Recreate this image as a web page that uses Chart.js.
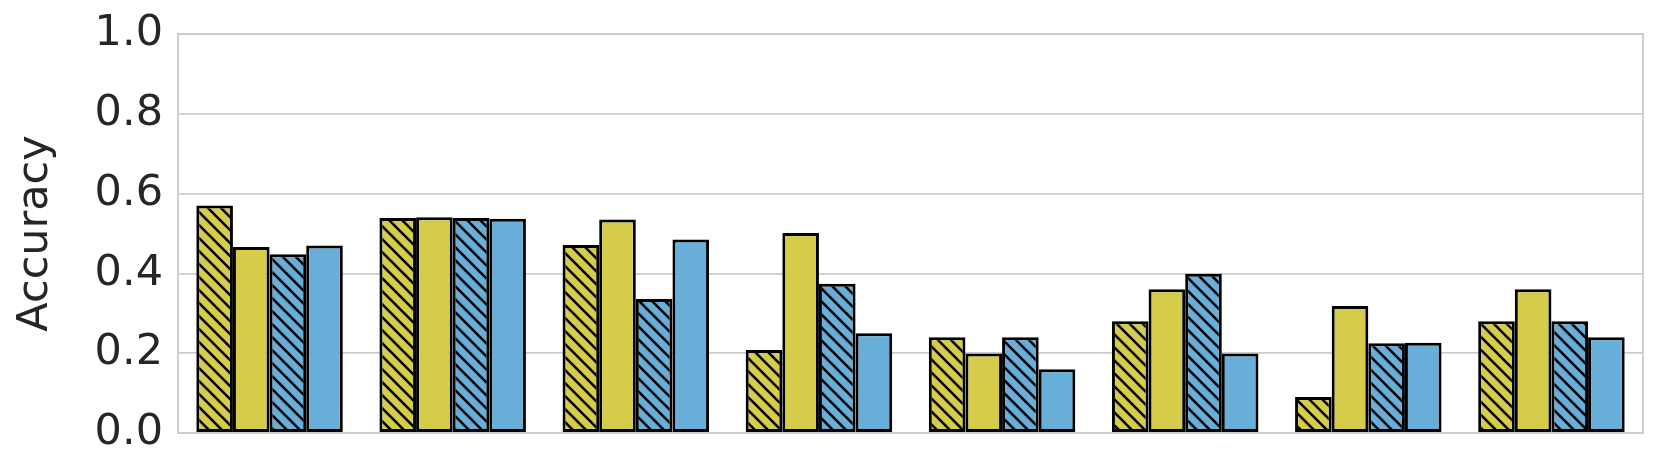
<!DOCTYPE html>
<html>
<head>
<meta charset="utf-8">
<script src="https://cdn.jsdelivr.net/npm/chart.js@4/dist/chart.umd.min.js"></script>
<style>
    body { margin: 0; background: #ffffff; }
    #wrap { width: 1661px; height: 473px; }
</style>
</head>
<body>
<div id="wrap"><canvas id="accChart" width="1661" height="473"></canvas></div>
<script>
// Data
const groups = ['1', '2', '3', '4', '5', '6', '7', '8'];
const yellowHatched = [0.570, 0.539, 0.471, 0.208, 0.240, 0.280, 0.090, 0.280];
const yellowPlain   = [0.466, 0.541, 0.535, 0.501, 0.199, 0.360, 0.318, 0.360];
const blueHatched   = [0.448, 0.539, 0.336, 0.374, 0.240, 0.399, 0.225, 0.280];
const bluePlain     = [0.470, 0.537, 0.485, 0.250, 0.160, 0.199, 0.226, 0.240];
const yTicks = [0, 0.2, 0.4, 0.6, 0.8, 1.0];

const YELLOW = '#d5cc4a';
const BLUE = '#67afd8';
const GRID = '#cccccc';
const TEXT = '#262626';

function hatch(color) {
    const p = 13;
    const c = document.createElement('canvas');
    c.width = p;
    c.height = p;
    const g = c.getContext('2d');
    g.fillStyle = color;
    g.fillRect(0, 0, p, p);
    g.strokeStyle = '#000000';
    g.lineWidth = 2.6;
    g.beginPath();
    g.moveTo(-2, -2); g.lineTo(p + 2, p + 2);
    g.moveTo(-2, p - 2); g.lineTo(2, p + 2);
    g.moveTo(p - 2, -2); g.lineTo(p + 2, 2);
    g.stroke();
    return g.createPattern(c, 'repeat');
}

// frame around the plot area (seaborn whitegrid style)
const frame = {
    id: 'frame',
    beforeDatasetsDraw(chart) {
        const { ctx, chartArea: a } = chart;
        ctx.save();
        ctx.strokeStyle = GRID;
        ctx.lineWidth = 1.8;
        ctx.strokeRect(a.left, a.top, a.right - a.left, a.bottom - a.top);
        ctx.restore();
    }
};

function bar(data, fill) {
    return {
        data: data,
        backgroundColor: fill,
        borderColor: '#000000',
        borderWidth: 3,
        borderSkipped: false,
        categoryPercentage: 0.8,
        barPercentage: 1.0
    };
}

new Chart(document.getElementById('accChart').getContext('2d'), {
    type: 'bar',
    data: {
        labels: groups,
        datasets: [
            bar(yellowHatched, hatch(YELLOW)),
            bar(yellowPlain, YELLOW),
            bar(blueHatched, hatch(BLUE)),
            bar(bluePlain, BLUE)
        ]
    },
    options: {
        responsive: false,
        animation: false,
        layout: { padding: { top: 34, right: 18, bottom: 32, left: 10 } },
        plugins: {
            legend: { display: false },
            tooltip: { enabled: false }
        },
        scales: {
            x: {
                ticks: { display: false },
                grid: { display: false },
                border: { display: false }
            },
            y: {
                min: 0,
                max: 1,
                afterBuildTicks: s => { s.ticks = yTicks.map(v => ({ value: v })); },
                afterFit: s => {
                    s.width = 168;
                    s.paddingTop = 0;
                    s.paddingBottom = 0;
                },
                ticks: {
                    padding: 15,
                    color: TEXT,
                    font: { family: 'DejaVu Sans', size: 43 },
                    callback: v => Number(v).toFixed(1)
                },
                grid: { color: GRID, lineWidth: 1.8, drawTicks: false },
                border: { display: false },
                title: {
                    display: true,
                    text: 'Accuracy',
                    color: TEXT,
                    padding: { top: 0, bottom: 0 },
                    font: { family: 'DejaVu Sans', size: 43 }
                }
            }
        }
    },
    plugins: [frame]
});
</script>
</body>
</html>
